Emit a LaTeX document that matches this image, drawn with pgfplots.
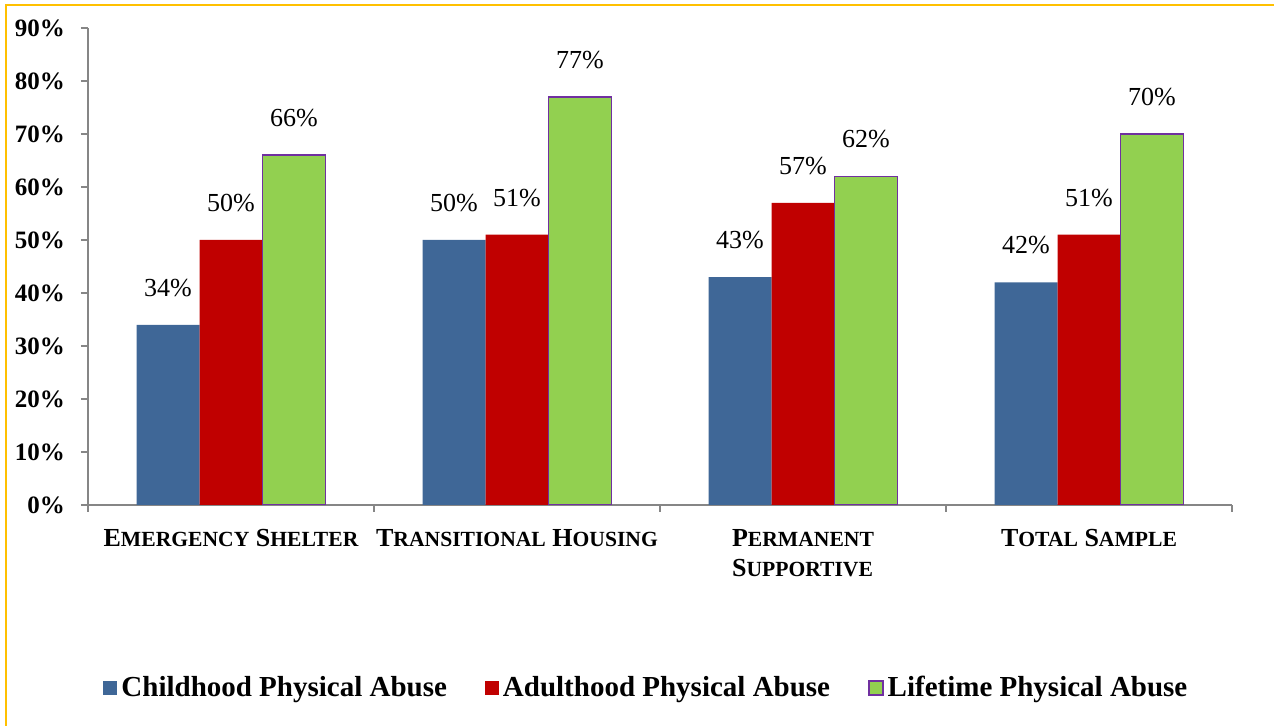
\documentclass[border=0pt]{standalone}
\usepackage{fontspec}
\setmainfont{Liberation Serif}
\usepackage{pgfplots}
\pgfplotsset{compat=1.18}
\definecolor{cblue}{HTML}{3F6797}
\definecolor{cred}{HTML}{C00000}
\definecolor{cgreen}{HTML}{92D050}
\definecolor{cpurple}{HTML}{7030A0}
\definecolor{axgray}{HTML}{868686}
\definecolor{frameyellow}{HTML}{FFC000}
\newcommand{\SC}[2]{{\fontsize{13}{15}\selectfont #1}{\fontsize{10.8}{15}\selectfont #2}}
\begin{document}
\begin{tikzpicture}
\useasboundingbox (0,0) rectangle (637pt,363pt);
\begin{axis}[
  at={(44pt,110.5pt)}, anchor=south west,
  scale only axis, width=572pt, height=238.5pt,
  ybar=0pt, bar width=31.5pt,
  xmin=-0.5, xmax=3.5, ymin=0, ymax=90,
  axis x line=bottom, axis y line=left,
  axis line style={draw=axgray, line width=1pt, -},
  tick align=outside, major tick length=3.5pt,
  tick style={draw=axgray, line width=1pt},
  xtick={-0.5,0.5,1.5,2.5,3.5}, xticklabels={},
  extra x ticks={0,1,2,3},
  extra x tick style={major tick length=0pt},
  extra x tick labels={{\SC{E}{MERGENCY} \SC{S}{HELTER}},{\SC{T}{RANSITIONAL} \SC{H}{OUSING}},{\SC{P}{ERMANENT}\\\SC{S}{UPPORTIVE}},{\SC{T}{OTAL} \SC{S}{AMPLE}}},
  xticklabel style={font=\fontsize{13}{15}\selectfont\bfseries, anchor=north, align=left, yshift=-8.5pt},
  ytick={0,10,...,90},
  yticklabel={\pgfmathprintnumber[assume math mode=true]{\tick}\%},
  yticklabel style={font=\fontsize{12.5}{15}\selectfont\bfseries, xshift=-4.5pt},
  nodes near coords={\pgfmathprintnumber[assume math mode=true]{\pgfplotspointmeta}\%},
  every node near coord/.append style={font=\fontsize{13}{15}\selectfont, anchor=south, yshift=10.5pt, text=black},
  legend style={at={(0.489,-0.384)}, anchor=center, draw=none, legend columns=3,
    font=\fontsize{14.5}{17}\selectfont\bfseries,
    /tikz/every even column/.append style={column sep=17pt}},
]
\addplot[fill=cblue, draw=none, legend image code/.code={\fill[cblue] (0pt,-3.5pt) rectangle (7pt,3.5pt);}] coordinates {(0,34) (1,50) (2,43) (3,42)};
\addlegendentry{Childhood Physical Abuse}
\addplot[fill=cred, draw=none, legend image code/.code={\fill[cred] (0pt,-3.5pt) rectangle (7pt,3.5pt);}] coordinates {(0,50) (1,51) (2,57) (3,51)};
\addlegendentry{Adulthood Physical Abuse}
\addplot[fill=cgreen, draw=cpurple, line width=0.8pt, legend image code/.code={\draw[fill=cgreen, draw=cpurple, line width=0.8pt] (0pt,-3.5pt) rectangle (7pt,3.5pt);}] coordinates {(0,66) (1,77) (2,62) (3,70)};
\addlegendentry{Lifetime Physical Abuse}
\end{axis}
\draw[frameyellow, line width=1.2pt] (3pt,0) -- (3pt,360.5pt) -- (637pt,360.5pt);
\end{tikzpicture}
\end{document}
